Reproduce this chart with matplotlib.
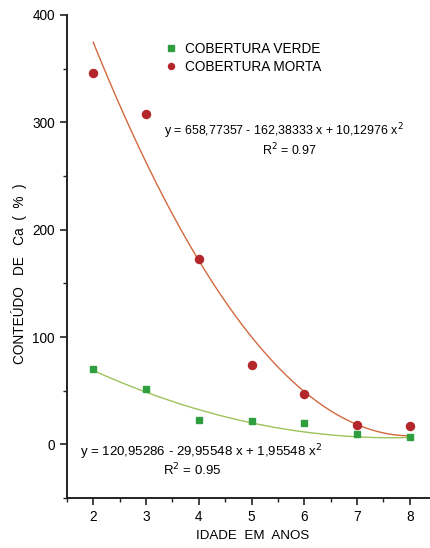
import numpy as np
import matplotlib
matplotlib.use("Agg")
from matplotlib import pyplot as plt
from matplotlib.ticker import MultipleLocator

plt.rcParams['font.family'] = ['Liberation Sans', 'DejaVu Sans']

idade = [2, 3, 4, 5, 6, 7, 8]
verde = [70, 52, 23, 22, 20, 10, 7]
morta = [346, 308, 173, 74, 47, 18, 17]

# regression coefficients as printed on the chart (a + b x + c x^2)
coef_verde = [120.95286, -29.95548, 1.95548]
coef_morta = [658.77357, -162.38333, 10.12976]

fig = plt.figure(figsize=(4.31, 5.48), dpi=100)
ax = fig.add_axes([0.155, 0.091, 0.845, 0.882])

xs = np.linspace(2, 8, 200)
fit_v = coef_verde[0] + coef_verde[1]*xs + coef_verde[2]*xs**2
fit_m = coef_morta[0] + coef_morta[1]*xs + coef_morta[2]*xs**2
ax.plot(xs, fit_m, color='#d2693f', lw=1.0)
ax.plot(xs, fit_v, color='#9cc45a', lw=1.0)

ax.plot(idade, verde, 's', color='#2e9e3e', ms=5, ls='none', label='COBERTURA VERDE')
ax.plot(idade, morta, 'o', color='#b3262a', ms=5.8, ls='none', label='COBERTURA MORTA')

ax.set_xlim(1.5, 8.4)
ax.set_ylim(-50, 400)
ax.xaxis.set_major_locator(MultipleLocator(1))
ax.xaxis.set_minor_locator(MultipleLocator(0.5))
ax.yaxis.set_major_locator(MultipleLocator(100))
ax.yaxis.set_minor_locator(MultipleLocator(50))
ax.tick_params(which='major', length=5, width=1.2, labelsize=9.8, color='#222222')
ax.tick_params(which='minor', length=3, width=1.0, color='#222222')
for s in ['top', 'right']:
    ax.spines[s].set_visible(False)
for s in ['left', 'bottom']:
    ax.spines[s].set_linewidth(1.4)
    ax.spines[s].set_color('#222222')

ax.set_xlabel('IDADE  EM  ANOS', fontsize=9.6, labelpad=6)
ax.xaxis.set_label_coords(0.51, -0.065)
ax.set_ylabel('CONTEÚDO   DE   Ca  (  %  )', fontsize=9.8, labelpad=4)
ax.yaxis.set_label_coords(-0.108, 0.464)

ax.legend(loc='upper left', bbox_to_anchor=(0.235, 0.97), frameon=False,
          fontsize=9.8, handletextpad=0.5, labelspacing=0.3, handlelength=1.0,
          markerscale=0.75)

ax.text(3.34, 292, 'y = 658,77357 - 162,38333 x + 10,12976 x$^2$',
        fontsize=8.9, ha='left', va='center')
ax.text(5.71, 274, 'R$^2$ = 0.97', fontsize=8.9, ha='center', va='center')
ax.text(1.75, -7, 'y = 120,95286 - 29,95548 x + 1,95548 x$^2$',
        fontsize=9.5, ha='left', va='center')
ax.text(3.88, -24, 'R$^2$ = 0.95', fontsize=9.5, ha='center', va='center')

fig.savefig('out.png', dpi=100)
